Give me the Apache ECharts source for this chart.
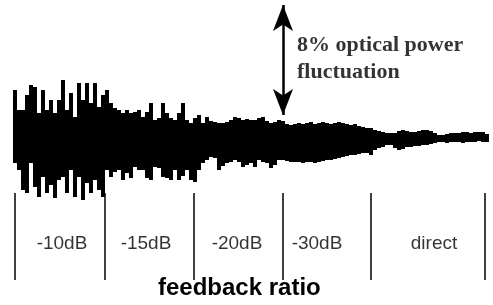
<!DOCTYPE html>
<html style="height: 100%">
   <head>
       <meta charset="utf-8">
   </head>
   <body style="height: 100%; margin: 0; background: #fff">
       <div id="container" style="width: 493px; height: 305px"></div>
       <script type="text/javascript" src="https://cdn.jsdelivr.net/npm/echarts@6/dist/echarts.min.js"></script>
       <script type="text/javascript">
// optical power trace, sampled envelope (mV, 0 = mean level)
var traceHigh = [50, 30, 30, 45, 55, 53, 27, 50, 30, 40, 27, 40, 60, 30, 47, 23, 57, 40, 57, 37,
    57, 33, 45, 50, 37, 32, 30, 27, 30, 27, 28, 30, 23, 28, 37, 20, 22, 37, 27, 22,
    20, 27, 37, 20, 17, 22, 25, 17, 23, 19, 18, 17, 17, 18, 20, 23, 22, 20, 21, 20,
    20, 22, 23, 19, 17, 18, 20, 19, 16, 15, 16, 17, 16, 17, 18, 16, 17, 18, 17, 16,
    17, 18, 17, 16, 15, 16, 14, 13, 12, 12, 10, 9, 8, 7, 7, 7, 9, 10, 9, 8,
    8, 9, 10, 10, 9, 7, 5, 5, 6, 7, 7, 7, 8, 8, 7, 8, 8, 8, 6];
var traceLow = [-23, -30, -50, -53, -23, -47, -57, -37, -53, -45, -58, -40, -37, -53, -30, -57, -37, -60, -43, -53,
    -40, -50, -57, -30, -37, -32, -30, -40, -33, -38, -27, -30, -30, -38, -40, -27, -28, -37, -38, -40,
    -30, -40, -36, -30, -40, -42, -30, -23, -20, -17, -18, -30, -26, -23, -22, -20, -22, -27, -25, -23,
    -27, -20, -22, -23, -28, -25, -20, -20, -21, -22, -22, -22, -23, -22, -22, -23, -22, -21, -20, -20,
    -19, -18, -17, -16, -15, -15, -14, -13, -13, -15, -10, -8, -7, -5, -5, -8, -10, -9, -7, -7,
    -6, -6, -5, -5, -4, -3, -2, -2, -3, -2, -2, -2, -3, -2, -2, -2, -1, -2, -2];

// feedback segments (sample index)
var segmentBounds = [0, 22.5, 44.75, 67, 89, 117.5];
var segmentNames = ['-10dB', '-15dB', '-20dB', '-30dB', 'direct'];
var segmentLabelPos = [11.75, 32.75, 55.5, 75.5, 104.75];

var samples = traceHigh.map(function (v, i) { return i; });
var base = traceLow;
var span = traceHigh.map(function (v, i) { return v - traceLow[i]; });

var dom = document.getElementById("container");
var myChart = echarts.init(dom, null, {renderer: 'canvas'});

var sepLines = segmentBounds.map(function (x) {
    return [{coord: [x, -53]}, {coord: [x, -140]}];
});
var labelPts = segmentNames.map(function (n, i) {
    return {name: n, value: [segmentLabelPos[i], -104]};
});

var option = {
    animation: false,
    backgroundColor: '#fff',
    title: {
        text: 'feedback ratio',
        left: 153,
        top: 271,
        textStyle: {
            fontFamily: 'Liberation Sans',
            fontSize: 24,
            fontWeight: 'bold',
            color: '#000'
        }
    },
    grid: {left: 13, right: 4, top: 0, bottom: 0},
    xAxis: [
        {type: 'category', data: samples, show: false},
        {type: 'value', min: -0.5, max: 118.5, show: false}
    ],
    yAxis: {type: 'value', min: -165, max: 140, show: false},
    series: [
        {
            type: 'bar',
            stack: 'trace',
            stackStrategy: 'all',
            data: base,
            barCategoryGap: 0,
            itemStyle: {color: 'transparent'},
            silent: true
        },
        {
            type: 'bar',
            stack: 'trace',
            stackStrategy: 'all',
            data: span,
            barCategoryGap: 0,
            itemStyle: {color: '#000'},
            silent: true
        },
        {
            type: 'scatter',
            xAxisIndex: 1,
            symbolSize: 0,
            data: labelPts,
            silent: true,
            label: {
                show: true,
                position: 'inside',
                formatter: '{b}',
                fontFamily: 'Liberation Sans',
                fontSize: 19,
                color: '#000'
            },
            markLine: {
                silent: true,
                symbol: 'none',
                label: {show: false},
                lineStyle: {color: '#000', width: 1.5, type: 'solid'},
                data: sepLines
            }
        },
        {
            type: 'scatter',
            xAxisIndex: 1,
            symbolSize: 0,
            silent: true,
            data: [{name: '8% optical power\nfluctuation', value: [70.5, 81]}],
            label: {
                show: true,
                position: 'right',
                distance: 0,
                formatter: '{b}',
                fontFamily: 'Liberation Serif',
                fontWeight: 'bold',
                fontSize: 22,
                lineHeight: 27,
                color: '#000'
            },
            markLine: {
                silent: true,
                symbol: ['arrow', 'arrow'],
                symbolSize: [15, 26],
                label: {show: false},
                itemStyle: {color: '#000'},
                lineStyle: {color: '#000', width: 2.5, type: 'solid', opacity: 1},
                data: [[{coord: [67, 25]}, {coord: [67, 135]}]]
            }
        }
    ]
};
myChart.setOption(option);
       </script>
   </body>
</html>
